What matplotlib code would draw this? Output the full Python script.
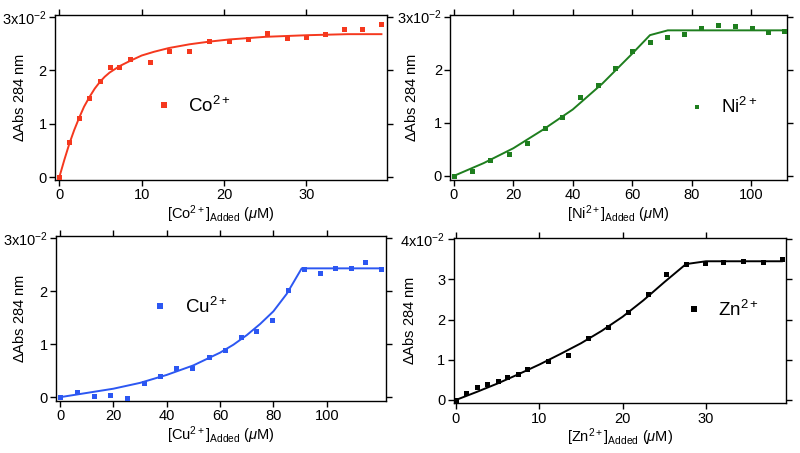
import matplotlib
matplotlib.use("Agg")
import matplotlib.pyplot as plt
from matplotlib.lines import Line2D

plt.rcParams.update({
    "font.family": ["Liberation Sans", "DejaVu Sans"],
    "mathtext.fontset": "custom",
    "mathtext.rm": "Liberation Sans",
    "mathtext.it": "Liberation Sans:italic",
    "mathtext.default": "rm",
    "font.size": 10,
    "axes.linewidth": 1.0,
    "xtick.direction": "out",
    "ytick.direction": "out",
    "xtick.top": True,
    "ytick.right": True,
    "xtick.major.pad": 2,
    "ytick.major.pad": 2,
})

# ─── data (ΔAbs in units of 1e-2) ──────────────────────────────────────────────
co_x = [0, 1.2, 2.4, 3.65, 4.9, 6.1, 7.3, 8.6, 11.0, 13.3, 15.8, 18.2, 20.6, 22.9,
        25.2, 27.6, 29.9, 32.2, 34.5, 36.8, 39.1]
co_y = [0, 0.66, 1.11, 1.49, 1.81, 2.06, 2.06, 2.22, 2.16, 2.37, 2.36, 2.56, 2.56, 2.59,
        2.71, 2.60, 2.62, 2.69, 2.78, 2.78, 2.87]
co_fit_x = [0, 0.6, 1.2, 1.8, 2.4, 3.0, 3.65, 4.3, 4.9, 5.5, 6.1, 7.3, 8.6, 10, 11.5, 13.3,
            15.8, 18.2, 20.6, 25, 30, 35, 39.1]
co_fit_y = [0, 0.32, 0.62, 0.88, 1.11, 1.32, 1.50, 1.66, 1.78, 1.88, 1.96, 2.08, 2.18, 2.28,
            2.35, 2.42, 2.49, 2.54, 2.58, 2.63, 2.66, 2.68, 2.68]

ni_x = [0, 6.2, 12.3, 18.5, 24.6, 30.5, 36.5, 42.4, 48.5, 54.2, 60.0, 65.9, 71.6, 77.3,
        83.1, 88.8, 94.6, 100.3, 105.9, 111.1]
ni_y = [0, 0.09, 0.30, 0.41, 0.62, 0.90, 1.10, 1.48, 1.71, 2.03, 2.35, 2.52, 2.61, 2.68,
        2.79, 2.84, 2.83, 2.78, 2.70, 2.73]
ni_fit_x = [0, 10, 20, 30, 40, 50, 60, 66.0, 72.0, 111.1]
ni_fit_y = [0, 0.24, 0.52, 0.87, 1.25, 1.74, 2.30, 2.65, 2.74, 2.74]

cu_x = [0, 6.4, 12.6, 18.9, 25.1, 31.4, 37.4, 43.6, 49.6, 55.75, 61.75, 67.9, 73.6, 79.6,
        85.6, 91.5, 97.5, 103.25, 109.25, 114.5, 120.4]
cu_y = [0, 0.09, 0.02, 0.04, -0.02, 0.26, 0.40, 0.55, 0.56, 0.75, 0.89, 1.13, 1.24, 1.45,
        2.03, 2.41, 2.35, 2.43, 2.43, 2.55, 2.41]
cu_fit_x = [0, 10, 20, 30, 40, 50, 60, 65, 70, 75, 80, 85, 90.6, 120.4]
cu_fit_y = [0, 0.08, 0.16, 0.27, 0.42, 0.60, 0.84, 0.99, 1.17, 1.38, 1.62, 1.95, 2.43, 2.43]

zn_x = [0, 1.24, 2.48, 3.72, 5.0, 6.16, 7.4, 8.56, 11.0, 13.4, 15.8, 18.2, 20.6, 23.0,
        25.2, 27.6, 29.9, 32.1, 34.5, 36.8, 39.1]
zn_y = [0, 0.18, 0.33, 0.40, 0.47, 0.57, 0.64, 0.76, 0.97, 1.12, 1.53, 1.82, 2.20, 2.63,
        3.14, 3.38, 3.41, 3.42, 3.46, 3.43, 3.50]
zn_fit_x = [0, 2.5, 5, 7.5, 10, 12.5, 15, 17.5, 20, 22.5, 25, 27.6, 30, 39.1]
zn_fit_y = [0, 0.20, 0.41, 0.64, 0.88, 1.14, 1.41, 1.72, 2.07, 2.48, 2.93, 3.38, 3.45, 3.45]

PANELS = [
    # ion, color, x, y, fit_x, fit_y, xlim, ylim, xticks, yticks, axes rect, legend anchor,
    # legend marker size, ylabel x
    ("Co", "#F5381E", co_x, co_y, co_fit_x, co_fit_y, (-0.5, 39.8), (-0.05, 3.04),
     [0, 10, 20, 30], [0, 1, 2, 3], [0.069, 0.603, 0.415, 0.364], (0.298, 0.45), 4.6, -0.084),
    ("Ni", "#1E7E1E", ni_x, ni_y, ni_fit_x, ni_fit_y, (-1.2, 112.2), (-0.075, 3.03),
     [0, 20, 40, 60, 80, 100], [0, 1, 2, 3], [0.563, 0.603, 0.421, 0.364], (0.704, 0.44), 3.4, -0.094),
    ("Cu", "#2C57F2", cu_x, cu_y, cu_fit_x, cu_fit_y, (-1.5, 122.2), (-0.07, 3.04),
     [0, 20, 40, 60, 80, 100], [0, 1, 2, 3], [0.070, 0.115, 0.4125, 0.364], (0.288, 0.57), 4.2, -0.088),
    ("Zn", "black", zn_x, zn_y, zn_fit_x, zn_fit_y, (-0.28, 39.6), (-0.08, 4.04),
     [0, 10, 20, 30], [0, 1, 2, 3, 4], [0.567, 0.110, 0.4155, 0.3656], (0.694, 0.563), 4.2, -0.109),
]

fig = plt.figure(figsize=(8.0, 4.53), dpi=100)

for ion, col, x, y, fx, fy, xl, yl, xt, yt, rect, anchor, lms, ylx in PANELS:
    ax = fig.add_axes(rect)
    ax.plot(fx, fy, color=col, lw=1.4, zorder=2)
    ax.plot(x, y, ls="none", marker="s", ms=3.6, color=col, mew=0, zorder=3)
    ax.set_xlim(*xl)
    ax.set_ylim(*yl)
    ax.set_xticks(xt)
    ax.set_yticks(yt)
    labels = [str(v) for v in yt]
    labels[-1] = f"{yt[-1]}x10$^{{-2}}$"
    ax.set_yticklabels(labels)
    ax.tick_params(labelsize=10.5, length=4, width=1)
    ax.tick_params(axis="x", labeltop=False)
    ax.tick_params(axis="y", labelright=False)
    ax.set_ylabel(r"$\Delta$Abs 284 nm", fontsize=10.5)
    ax.yaxis.set_label_coords(ylx, 0.5)
    ax.set_xlabel(f"[{ion}$^{{2+}}$]$_{{Added}}$ ($\\mathit{{\\mu}}$M)",
                  fontsize=10.5, labelpad=1)
    # legend key
    h = Line2D([], [], ls="none", marker="s", ms=lms, color=col, mew=0)
    ax.legend([h], [f"{ion}$^{{2+}}$"], loc="center left", bbox_to_anchor=anchor,
              frameon=False, fontsize=13.5, handlelength=1.0, handletextpad=0.8,
              borderpad=0, borderaxespad=0)

fig.savefig("out.png", dpi=100)
